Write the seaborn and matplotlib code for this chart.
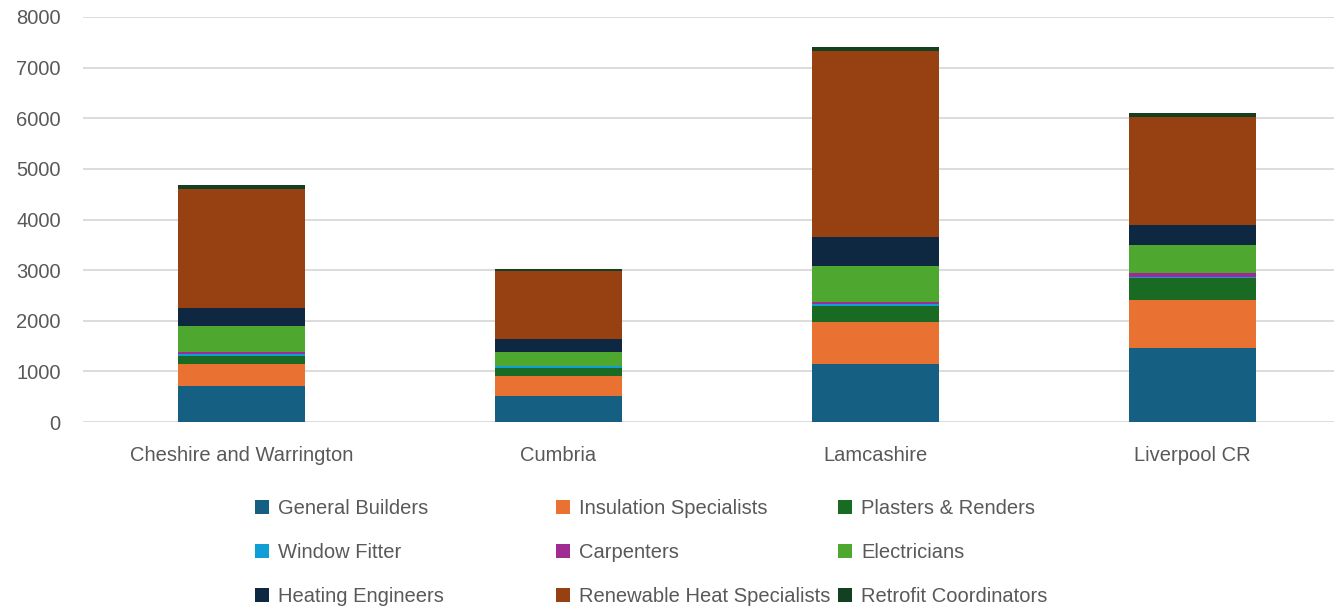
import numpy as np
import pandas as pd
import matplotlib
matplotlib.use('Agg')
import matplotlib.pyplot as plt
import seaborn as sns
from matplotlib.patches import Patch

regiones = ['Cheshire and Warrington', 'Cumbria', 'Lamcashire', 'Liverpool CR']
oficios = ['General Builders', 'Insulation Specialists', 'Plasters & Renders',
           'Window Fitter', 'Carpenters', 'Electricians',
           'Heating Engineers', 'Renewable Heat Specialists', 'Retrofit Coordinators']

general = [710, 515, 1150, 1465]
insulation = [440, 395, 830, 950]
plasters = [160, 160, 320, 435]
window = [40, 40, 40, 5]
carpenters = [40, 5, 40, 80]
electricians = [510, 275, 710, 555]
heating = [360, 240, 555, 395]
renewable = [2340, 1345, 3685, 2140]
retrofit = [80, 40, 80, 80]

colores = ['#156082', '#E97132', '#196B24', '#0F9ED5', '#A02B93',
           '#4EA72E', '#0E2841', '#974011', '#124021']

valores = [general, insulation, plasters, window, carpenters,
           electricians, heating, renewable, retrofit]

df = pd.DataFrame([(r, o, v[i]) for o, v in zip(oficios, valores)
                   for i, r in enumerate(regiones)],
                  columns=['region', 'oficio', 'valor'])
df['region'] = pd.Categorical(df['region'], categories=regiones, ordered=True)

sns.set_style('white')
plt.rcParams['font.family'] = ['Liberation Sans', 'DejaVu Sans']

fig = plt.figure(figsize=(13.34, 6.10), dpi=100)
ax = fig.add_axes([83 / 1334, 188 / 610, 1268 / 1334, 405 / 610])

paleta = dict(zip(oficios, colores))
# seaborn apila el primer nivel de hue arriba, asi que invertimos el orden
sns.histplot(data=df, x='region', weights='valor', hue='oficio',
             hue_order=oficios[::-1], multiple='stack', discrete=True,
             shrink=0.4, palette=paleta, alpha=1, linewidth=0,
             legend=False, ax=ax)

ax.set_xlim(-0.5, 3.5)
ax.set_ylim(0, 8000)
ax.set_yticks(range(0, 8001, 1000))
ax.set_xticks(range(len(regiones)))
ax.set_xticklabels(regiones)
ax.set_xlabel('')
ax.set_ylabel('')
ax.yaxis.grid(True, color='#D9D9D9', linewidth=1.3)
ax.set_axisbelow(True)
for s in ax.spines.values():
    s.set_visible(False)
ax.tick_params(axis='both', length=0, labelsize=14.5, labelcolor='#595959')
ax.tick_params(axis='x', pad=17)
ax.tick_params(axis='y', pad=16)

# leyenda: una columna por leyenda para controlar posiciones
cols_x = [255, 556, 838]
for c in range(3):
    idx = [c, c + 3, c + 6]
    handles = [Patch(facecolor=colores[i], edgecolor='none', label=oficios[i]) for i in idx]
    fig.legend(handles=handles, loc='upper left',
               bbox_to_anchor=(cols_x[c] / 1334, 1 - 499 / 610),
               frameon=False, fontsize=14.5, labelcolor='#595959',
               handlelength=0.7, handleheight=0.7, handletextpad=0.45,
               labelspacing=1.25, borderpad=0, borderaxespad=0)

fig.savefig('out.png', dpi=100)
